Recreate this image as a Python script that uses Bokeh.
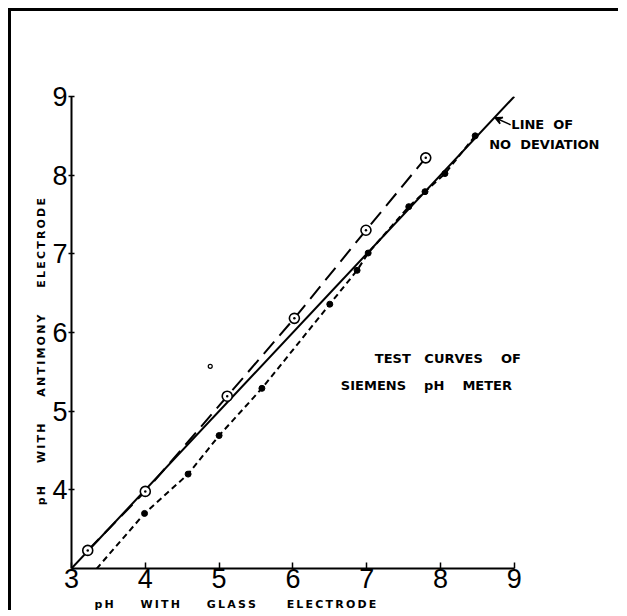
from bokeh.plotting import figure
from bokeh.models import Label, Arrow, VeeHead, Range1d, FixedTicker
from bokeh.embed import file_html
from bokeh.resources import INLINE

NB = "\u00a0"
TS = "\u2009"

# line of no deviation
ideal_x = [3.0, 9.0]
ideal_y = [3.0, 9.0]

# open circles (long dashes)
open_x = [3.22, 4.00, 5.11, 6.02, 6.99, 7.80]
open_y = [3.23, 3.98, 5.19, 6.18, 7.30, 8.22]

# filled dots (short dashes)
filled_x = [3.25, 3.99, 4.58, 5.00, 5.58, 6.50, 6.87, 7.02, 7.57, 7.79, 8.06, 8.47]
filled_y = [2.90, 3.70, 4.20, 4.69, 5.29, 6.36, 6.79, 7.01, 7.60, 7.79, 8.02, 8.50]

# stray small circle
stray_x = [4.88]
stray_y = [5.57]

x_ticks = [3, 4, 5, 6, 7, 8, 9]
y_ticks = [4, 5, 6, 7, 8, 9]


def spaced(word):
    return TS.join(word)


x_title = (spaced("pH") + NB * 7 + spaced("WITH") + NB * 7 + spaced("GLASS") + NB * 8
           + spaced("ELECTRODE") + NB * 57)
y_title = (spaced("pH") + NB * 6 + spaced("WITH") + NB * 7 + spaced("ANTIMONY") + NB * 7
           + spaced("ELECTRODE") + NB * 10)

p = figure(frame_width=546, frame_height=472, output_backend="svg", toolbar_location=None,
           x_range=Range1d(3, 3 + 546 / 73.8), y_range=Range1d(3, 9),
           min_border_left=60, min_border_right=4, min_border_top=85, min_border_bottom=43)
p.outline_line_color = None
p.grid.visible = False
p.background_fill_color = "white"
p.border_fill_color = "white"

for ax in (p.xaxis[0], p.yaxis[0]):
    ax.bounds = (3, 9)
    ax.axis_line_width = 2
    ax.axis_line_color = "black"
    ax.major_tick_line_width = 1.5
    ax.major_tick_line_color = "black"
    ax.minor_tick_line_color = None
    ax.major_label_text_font = "Liberation Sans"
    ax.major_label_text_font_size = "27px"
    ax.major_label_text_color = "black"
    ax.axis_label_text_font = "DejaVu Sans"
    ax.axis_label_text_font_style = "bold"
    ax.axis_label_text_font_size = "11px"
    ax.axis_label_text_color = "black"

p.xaxis.ticker = FixedTicker(ticks=x_ticks)
p.yaxis.ticker = FixedTicker(ticks=y_ticks)
p.xaxis.major_tick_in = 6
p.xaxis.major_tick_out = 0
p.xaxis.major_label_standoff = 0
p.xaxis.axis_label_standoff = 7
p.yaxis.major_tick_in = 3
p.yaxis.major_tick_out = 3
p.yaxis.major_label_standoff = 1
p.yaxis.axis_label_standoff = 1
p.xaxis.axis_label = x_title
p.yaxis.axis_label = y_title

p.line(ideal_x, ideal_y, line_color="black", line_width=2)
p.line(open_x, open_y, line_color="black", line_width=2, line_dash="16 8")
p.line(filled_x, filled_y, line_color="black", line_width=2, line_dash="6 4")
p.scatter(open_x, open_y, marker="circle_dot", size=10, fill_color="white",
          line_color="black", line_width=1.6)
p.scatter(filled_x, filled_y, marker="circle", size=6, fill_color="black", line_color="black")
p.scatter(stray_x, stray_y, marker="circle", size=4, fill_color="white", line_color="black",
          line_width=1.2)


def lab(x, y, t):
    p.add_layout(Label(x=x, y=y, text=t, text_font="DejaVu Sans", text_font_style="bold",
                       text_font_size="13px", text_color="black", text_baseline="middle",
                       text_align="left"))


lab(8.96, 8.64, "LINE" + NB * 2 + "OF")
lab(8.66, 8.39, "NO" + NB * 2 + "DEVIATION")
lab(7.11, 5.67, "TEST" + NB * 3 + "CURVES" + NB * 4 + "OF")
lab(6.65, 5.33, "SIEMENS" + NB * 4 + "pH" + NB * 4 + "METER")

p.add_layout(Arrow(end=VeeHead(size=7, line_color="black", line_width=1.5),
                   x_start=8.95, y_start=8.64, x_end=8.74, y_end=8.73,
                   line_color="black", line_width=1.5))

p.styles = {"margin-left": "11px", "margin-top": "11px",
            "box-shadow": "-3px -3px 0 0 black"}

html = file_html(p, INLINE)
html = html.replace("<head>", "<head><style>html, body { overflow: hidden; }</style>", 1)
open("out.html", "w").write(html)
